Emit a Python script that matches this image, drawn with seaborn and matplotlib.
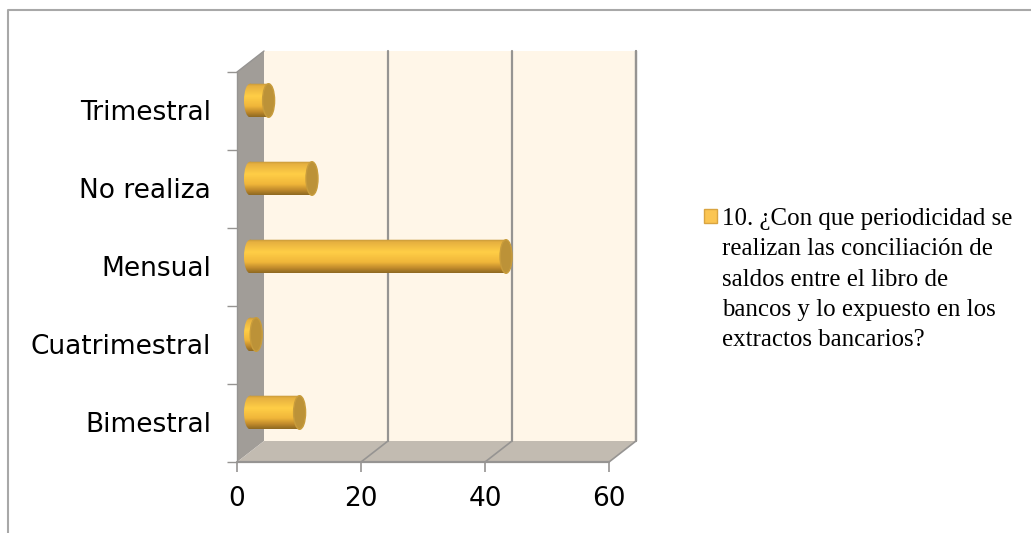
import matplotlib
matplotlib.use("Agg")
import matplotlib.pyplot as plt
import numpy as np
import seaborn as sns
from matplotlib.colors import LinearSegmentedColormap
from matplotlib.patches import Ellipse, PathPatch, Polygon, Rectangle
from matplotlib.path import Path
from matplotlib.transforms import Affine2D, IdentityTransform

categories = ["Trimestral", "No realiza", "Mensual", "Cuatrimestral", "Bimestral"]
values = [3, 10, 41.3, 1, 8]
x_ticks = [0, 20, 40, 60]
legend_text = ("10. ¿Con que periodicidad se\nrealizan las conciliación de\n"
               "saldos entre el libro de\nbancos y lo expuesto en los\n"
               "extractos bancarios?")

W, H = 1031, 533
GREY = "#969492"

sns.set_theme(style="white")
fig = plt.figure(figsize=(W / 100, H / 100), dpi=100)
# Front plane of the 3D box, in figure pixels
left, right, top, bottom = 237, 609, 72, 462
ax = fig.add_axes([left / W, 1 - bottom / H, (right - left) / W, (bottom - top) / H])

sns.barplot(x=values, y=categories, order=categories, orient="h", width=0.43,
            color="#F6BE3C", ax=ax, zorder=5)
ax.set_xlim(0, 60)
ax.set_ylim(4.5, -0.5)
ax.patch.set_visible(False)
for s in ax.spines.values():
    s.set_visible(False)
ax.set_xlabel("")
ax.set_ylabel("")
ax.set_xticks(x_ticks)

DX, DY = 27, 21
back = ax.transData + Affine2D().translate(DX, DY)
mid = ax.transData + Affine2D().translate(13, 10.5)


def corner(x, y):
    return ax.transData.transform((x, y))


def box_face(points, color, z=1, lw=0.0, ec="none"):
    ax.add_patch(Polygon(points, closed=True, fc=color, ec=ec, lw=lw, zorder=z,
                         transform=IdentityTransform(), clip_on=False))


shift = np.array([DX, DY])
# back wall, side wall and floor
box_face([corner(0, -.5) + shift, corner(60, -.5) + shift, corner(60, 4.5) + shift, corner(0, 4.5) + shift],
         "#FFF6E8")
box_face([corner(0, -.5), corner(0, -.5) + shift, corner(0, 4.5) + shift, corner(0, 4.5)], "#A19D98")
box_face([corner(0, 4.5), corner(0, 4.5) + shift, corner(60, 4.5) + shift, corner(60, 4.5)], "#C2BBB1")

# gridlines on the back wall and floor
for t in x_ticks[1:]:
    ax.plot([t, t], [-.5, 4.5], color=GREY, lw=1.6, transform=back, clip_on=False, zorder=2)
    a, b = corner(t, 4.5), corner(t, 4.5) + shift
    ax.plot([a[0], b[0]], [a[1], b[1]], color=GREY, lw=1.2, transform=IdentityTransform(),
            clip_on=False, zorder=2)
ax.plot([60, 60], [-.5, 4.5], color=GREY, lw=1.6, transform=back, clip_on=False, zorder=2)

# front axis lines and tick marks
ax.plot([0, 60], [4.5, 4.5], color=GREY, lw=1.6, clip_on=False, zorder=3)
ax.plot([0, 0], [-.5, 4.5], color=GREY, lw=1.0, clip_on=False, zorder=3)
a, b = corner(0, -.5), corner(0, -.5) + shift
ax.plot([a[0], b[0]], [a[1], b[1]], color=GREY, lw=1.0, transform=IdentityTransform(),
        clip_on=False, zorder=3)

ax.set_yticks(np.arange(-.5, 5), [""] * 6)
ax.tick_params(axis="y", length=7, width=1, color=GREY, left=True, pad=6)
ax.tick_params(axis="x", length=7, width=1.2, color=GREY, bottom=True, labelsize=19, pad=10,
               labelcolor="black", labelfontfamily="DejaVu Sans")
for i, c in enumerate(categories):
    ax.text(0, i, c, transform=ax.transData + Affine2D().translate(-26, -2), ha="right", va="center",
            fontsize=19, family="DejaVu Sans", color="black")

# cylinders: shade each seaborn bar and add its rounded ends
shade = LinearSegmentedColormap.from_list(
    "cyl", [(0, "#C2963A"), (0.08, "#E6B040"), (0.38, "#FFCE46"), (0.68, "#F0B63A"),
            (0.86, "#C08A2C"), (1, "#8F6A22")])
grad = np.linspace(0, 1, 64).reshape(-1, 1)
X_PER_PX = 60 / (right - left)
CAP = 6.0 * X_PER_PX
for bar in list(ax.patches):
    if not isinstance(bar, Rectangle) or bar.get_width() <= 0:
        continue
    x1 = bar.get_width()
    y0, h = bar.get_y(), bar.get_height()
    bar.set_transform(mid)
    bar.set_visible(False)
    outline = Path.make_compound_path(
        Path.unit_rectangle().transformed(Affine2D().scale(x1, h).translate(0, y0)),
        Path.unit_circle().transformed(Affine2D().scale(CAP, h / 2).translate(0, y0 + h / 2)),
    )
    clip = PathPatch(outline, transform=mid, fc="none", ec="none")
    ax.add_patch(clip)
    im = ax.imshow(grad, cmap=shade, aspect="auto", extent=(-CAP, x1, y0 + h, y0), zorder=5,
                   interpolation="bilinear")
    im.set_transform(mid)
    im.set_clip_path(clip)
    ax.add_patch(Ellipse((x1, y0 + h / 2), 2 * CAP, h, fc="#BC9238", ec="#C89C3C", lw=1, zorder=6, transform=mid,
                         clip_on=False))
ax.set_xlim(0, 60)
ax.set_ylim(4.5, -0.5)

# legend swatch and wrapped entry
fig.add_artist(Rectangle((703.5 / W, 1 - 223 / H), 13.5 / W, 13.5 / H, transform=fig.transFigure,
                         fc="#FBC552", ec="#D9A441", lw=1))
fig.text(722 / W, 1 - 208 / H, legend_text, ha="left", va="top", fontsize=17.9,
         family="Liberation Serif", color="black", linespacing=1.49)

# chart frame, open at the bottom and right edges
fx = [8, 8, W]
fy = [H, 10, 10]
fig.add_artist(plt.Line2D(fx, [H - v for v in fy], color="#A8A8A8", lw=1.5, transform=IdentityTransform()))

fig.savefig("out.png", dpi=100, facecolor="white")
